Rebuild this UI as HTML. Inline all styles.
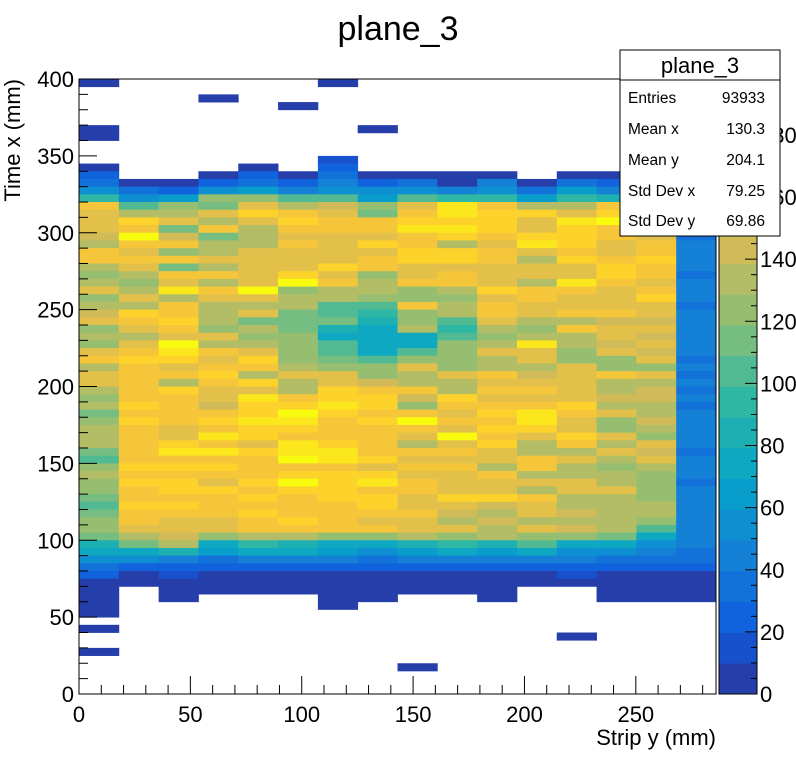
<!DOCTYPE html>
<html><head><meta charset="utf-8">
<style>
html,body{margin:0;padding:0;background:#fff;}
svg{display:block;font-family:"Liberation Sans",Arial,sans-serif;}
</style></head>
<body>
<svg id="chart" width="796" height="772" viewBox="0 0 796 772">
<text x="398" y="40" text-anchor="middle" font-size="34">plane_3</text>
<g id="cells"></g>
<g id="palette"></g>
<g id="axes"></g>
<text x="716" y="745" text-anchor="end" font-size="22">Strip y (mm)</text>
<text transform="translate(20,79) rotate(-90)" text-anchor="end" font-size="22">Time x (mm)</text>
<g id="stats">
<rect x="620" y="50" width="160" height="186" fill="#fff" stroke="#000" stroke-width="1"/>
<line x1="620" y1="80" x2="780" y2="80" stroke="#000"/>
<text x="700" y="73" text-anchor="middle" font-size="22">plane_3</text>
<g font-size="15.5">
<text x="628" y="103">Entries</text><text x="765" y="103" text-anchor="end">93933</text>
<text x="628" y="134">Mean x</text><text x="765" y="134" text-anchor="end">130.3</text>
<text x="628" y="165">Mean y</text><text x="765" y="165" text-anchor="end">204.1</text>
<text x="628" y="196">Std Dev x</text><text x="765" y="196" text-anchor="end">79.25</text>
<text x="628" y="226">Std Dev y</text><text x="765" y="226" text-anchor="end">69.86</text>
</g>
</g>
</svg>
<script>
const xTicks = [0, 50, 100, 150, 200, 250];
const yTicks = [0, 50, 100, 150, 200, 250, 300, 350, 400];
const zTicks = [0, 20, 40, 60, 80, 100, 120, 140, 160, 180];
const xRange = [0, 286];
const yRange = [0, 400];
const zMax = 198;
const nXBins = 16;
const yBinWidth = 5;
const topRowIndex = 69;
// rows from y-bin 69 (345-350) down to y-bin 10 (50-55); 16 x-bins each
const binCounts = [
[0,0,0,0,0,0,10,0,0,0,0,0,0,0,0,0],
[8,0,0,0,8,0,25,0,0,0,0,0,0,0,0,0],
[25,0,0,8,25,8,30,8,8,8,8,0,8,8,8,0],
[30,8,8,25,35,25,40,25,35,8,45,8,30,25,25,0],
[55,38,25,55,60,40,55,50,55,40,55,30,60,45,45,0],
[95,50,60,120,120,100,108,65,100,95,95,65,90,80,80,0],
[165,100,125,115,150,130,145,125,150,180,165,130,130,160,150,0],
[155,130,130,150,170,160,150,115,165,185,175,170,155,175,160,0],
[155,170,150,130,155,170,160,165,170,175,175,150,180,190,170,10],
[150,165,115,165,130,160,160,165,185,180,170,150,170,160,165,35],
[145,190,145,115,130,150,150,150,165,170,165,175,175,160,150,35],
[130,160,165,130,130,160,150,170,165,130,155,185,170,150,160,45],
[160,155,125,130,150,150,150,155,170,170,160,150,160,155,165,40],
[160,165,165,150,150,150,150,165,170,175,165,130,175,160,170,40],
[130,150,115,130,150,150,175,160,155,150,150,150,150,175,165,40],
[120,130,160,160,150,175,150,120,150,165,150,150,150,170,160,35],
[130,120,150,130,150,190,160,130,160,160,150,130,185,165,150,40],
[150,130,185,160,190,120,130,130,125,130,175,165,165,150,160,40],
[120,150,130,150,150,130,130,120,125,125,150,165,150,155,170,45],
[130,130,160,130,130,130,100,100,165,135,160,155,150,150,150,35],
[145,175,165,130,150,110,100,90,120,130,160,150,160,165,150,40],
[150,160,170,130,110,110,110,80,120,100,150,130,130,140,145,40],
[120,150,165,125,135,115,80,75,130,95,130,125,160,155,150,40],
[135,130,150,150,125,120,70,75,75,100,120,130,130,150,140,40],
[120,155,190,130,130,125,100,70,75,120,130,180,130,140,155,40],
[150,160,180,160,150,125,105,75,100,125,150,150,120,150,145,40],
[160,170,170,155,170,120,110,105,120,120,130,150,120,125,150,35],
[130,160,150,165,160,130,120,125,150,120,130,130,150,125,120,40],
[150,160,160,170,130,150,150,120,130,150,160,140,150,160,150,35],
[150,160,130,160,175,130,155,140,130,130,150,150,150,130,130,40],
[130,160,175,150,150,130,170,165,160,130,160,165,150,130,145,35],
[120,165,165,150,180,160,175,170,140,175,150,155,150,140,140,40],
[130,170,160,140,170,170,180,170,120,165,160,160,170,130,130,35],
[110,160,165,165,175,190,170,160,160,155,175,180,160,150,130,40],
[120,170,165,175,185,185,165,170,190,160,160,180,150,125,140,45],
[130,165,150,160,170,175,160,160,160,150,170,170,150,125,130,40],
[130,160,155,180,175,160,160,160,150,190,165,150,175,150,125,40],
[130,160,170,160,150,180,170,160,130,150,170,130,160,130,150,40],
[110,165,180,180,175,180,185,165,160,165,150,130,130,150,140,35],
[100,160,160,165,160,190,180,170,150,155,150,160,155,130,150,40],
[120,175,170,170,165,165,160,150,160,160,130,160,130,125,130,40],
[130,165,160,160,160,175,170,170,150,155,160,130,130,130,125,40],
[125,170,170,150,170,190,170,180,160,155,150,155,150,130,120,35],
[120,165,175,170,160,170,175,160,165,150,150,130,150,150,125,40],
[110,160,160,160,170,165,170,170,150,170,170,165,130,130,120,40],
[100,170,170,165,160,160,165,170,155,150,145,150,130,130,135,40],
[110,160,165,165,170,160,160,165,165,140,130,155,145,130,130,40],
[125,165,150,155,160,170,165,150,150,130,140,130,130,135,125,40],
[120,150,155,150,160,160,160,160,155,150,135,150,145,130,100,40],
[110,135,140,120,135,130,125,125,130,120,135,125,120,115,75,40],
[80,110,130,70,95,85,75,70,80,90,80,100,75,75,55,40],
[70,70,80,60,70,75,60,55,65,70,60,70,55,50,45,35],
[55,50,45,30,40,40,40,35,45,45,40,45,40,35,35,30],
[35,25,25,20,20,25,20,20,25,20,20,25,20,20,20,20],
[20,8,15,8,8,8,8,8,8,8,8,8,15,8,8,8],
[8,8,8,8,8,8,8,8,8,8,8,8,8,8,8,8],
[8,0,8,8,8,8,8,8,8,8,8,0,0,8,8,8],
[8,0,8,0,0,0,8,8,0,0,8,0,0,8,8,8],
[8,0,0,0,0,0,8,0,0,0,0,0,0,0,0,0],
[8,0,0,0,0,0,0,0,0,0,0,0,0,0,0,0]
];
// isolated bins: [x-bin, y-bin, count]
const outlierBins = [[0,79,3],[6,79,3],[3,77,3],[5,76,3],[0,73,3],[7,73,3],[0,72,3],[0,8,3],[12,7,3],[0,5,3],[8,3,3]];

const NS = "http://www.w3.org/2000/svg";
const X0 = 79, X1 = 716, Y0 = 694, Y1 = 79;
function sx(v){ return X0 + (v - xRange[0]) / (xRange[1] - xRange[0]) * (X1 - X0); }
function sy(v){ return Y0 - (v - yRange[0]) / (yRange[1] - yRange[0]) * (Y0 - Y1); }
const birdStops = [0,.125,.25,.375,.5,.625,.75,.875,1];
const birdR = [0.2082,0.0592,0.0780,0.0232,0.1802,0.5301,0.8186,0.9956,0.9764];
const birdG = [0.1664,0.3599,0.5041,0.6419,0.7178,0.7492,0.7328,0.7862,0.9832];
const birdB = [0.5293,0.8684,0.8385,0.7914,0.6425,0.4662,0.3499,0.1968,0.0539];
function bird(t){
  t = Math.max(0, Math.min(1, t));
  let i = 0; while (i < 7 && t > birdStops[i+1]) i++;
  const f = (t - birdStops[i]) / (birdStops[i+1] - birdStops[i]);
  const c = a => Math.round(255 * (a[i] + (a[i+1] - a[i]) * f));
  return `rgb(${c(birdR)},${c(birdG)},${c(birdB)})`;
}
const NCONT = 20;
function levelColor(l){ return bird((l + 1) / NCONT); }
function zColor(v){
  let lvl = Math.floor(v / zMax * NCONT); if (lvl > NCONT - 1) lvl = NCONT - 1;
  return levelColor(lvl);
}
function mk(tag, attrs, parent){
  const e = document.createElementNS(NS, tag);
  for (const k in attrs) e.setAttribute(k, attrs[k]);
  parent.appendChild(e); return e;
}
const xbw = (xRange[1] - xRange[0]) / nXBins;
const cells = document.getElementById('cells');
function drawCell(ix, iy, v){
  if (v <= 0) return;
  const x0 = sx(ix * xbw), x1 = sx((ix + 1) * xbw);
  const ya = sy((iy + 1) * yBinWidth), yb = sy(iy * yBinWidth);
  const r = mk('rect', {x: x0.toFixed(2), y: ya.toFixed(2), width: (x1 - x0 + 0.4).toFixed(2), height: (yb - ya + 0.4).toFixed(2), fill: zColor(v)}, cells);
  
  
}
binCounts.forEach((row, r) => row.forEach((v, ix) => drawCell(ix, topRowIndex - r, v)));
outlierBins.forEach(b => drawCell(b[0], b[1], b[2]));

const axes = document.getElementById('axes');
const frame = mk('rect', {x: X0, y: Y1, width: X1 - X0, height: Y0 - Y1, fill: 'none', stroke: '#000', 'stroke-width': 1}, axes);


for (let v = 0; v <= xRange[1]; v += 10) {
  const major = v % 50 === 0;
  mk('line', {x1: sx(v), x2: sx(v), y1: Y0, y2: Y0 - (major ? 18 : 9), stroke: '#000'}, axes);
}
for (let v = 0; v <= 400; v += 10) {
  const major = v % 50 === 0;
  mk('line', {x1: X0, x2: X0 + (major ? 18 : 9), y1: sy(v), y2: sy(v), stroke: '#000'}, axes);
}
xTicks.forEach(v => {
  const t = mk('text', {x: sx(v), y: Y0 + 28, 'text-anchor': 'middle', 'font-size': 22}, axes);
  t.textContent = v;
  
  
});
yTicks.forEach(v => {
  const t = mk('text', {x: X0 - 5, y: sy(v) + 8, 'text-anchor': 'end', 'font-size': 22}, axes);
  t.textContent = v;
  
  
});

const pal = document.getElementById('palette');
const PX0 = 719, PX1 = 757;
function pz(v){ return Y0 - v / zMax * (Y0 - Y1); }
for (let l = 0; l < NCONT; l++) {
  const z0 = l * zMax / NCONT, z1 = (l + 1) * zMax / NCONT;
  const b = mk('rect', {x: PX0, y: pz(z1), width: PX1 - PX0, height: pz(z0) - pz(z1) + 0.4, fill: levelColor(l)}, pal);
  
  
}
mk('rect', {x: PX0, y: Y1, width: PX1 - PX0, height: Y0 - Y1, fill: 'none', stroke: '#000'}, pal);
for (let v = 0; v <= zMax; v += 5) {
  const major = v % 20 === 0;
  mk('line', {x1: PX1, x2: PX1 - (major ? 12 : 6), y1: pz(v), y2: pz(v), stroke: '#000'}, pal);
}
zTicks.forEach(v => {
  const t = mk('text', {x: PX1 + 3, y: pz(v) + 8, 'font-size': 22}, pal);
  t.textContent = v;
  
  
});
document.getElementById('chart').appendChild(document.getElementById('stats'));
</script>
</body></html>
